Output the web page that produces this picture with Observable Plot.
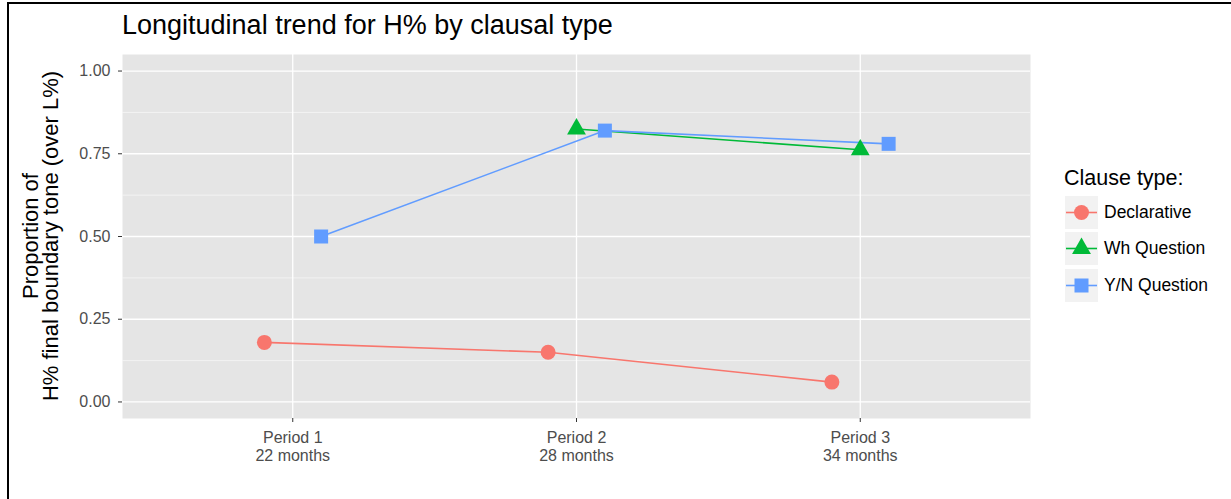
<!DOCTYPE html>
<html>
<head>
<meta charset="utf-8">
<script src="https://cdn.jsdelivr.net/npm/d3@7"></script>
<script src="https://cdn.jsdelivr.net/npm/@observablehq/plot@0.6"></script>
<style>
  html, body { margin: 0; padding: 0; background: #fff; }
  body { font-family: "Liberation Sans", Arial, Helvetica, sans-serif; }
  #wrap { position: relative; width: 1231px; height: 499px; overflow: hidden; }
  #frame { position: absolute; left: 7px; top: 2px; right: -5px; bottom: -5px;
           border-left: 2px solid #000; border-top: 2px solid #000; }
  #title { position: absolute; left: 122px; top: 11.5px; font-size: 27px; line-height: 1; color: #000; white-space: nowrap; }
  #ylab { position: absolute; left: 40.5px; top: 236px; transform: translate(-50%, -50%) rotate(-90deg);
          font-size: 22px; line-height: 20px; text-align: center; white-space: nowrap; color: #000; }
  #legend { position: absolute; left: 0; top: 0; width: 1231px; height: 499px; }
  #legend .ttl { position: absolute; left: 1064px; top: 168px; font-size: 21.5px; line-height: 1; white-space: nowrap; }
  #legend .key { position: absolute; left: 1065px; }
  #legend .lab { position: absolute; left: 1104px; font-size: 17.5px; line-height: 1; white-space: nowrap; color: #000; }
  #chart { position: absolute; left: 0; top: 0; }
</style>
</head>
<body>
<div id="wrap">
  <div id="frame"></div>
  <div id="chart"></div>
  <div id="title">Longitudinal trend for H% by clausal type</div>
  <div id="ylab">Proportion of<br>H% final boundary tone (over L%)</div>
  <div id="legend"></div>
</div>
<script>
// ---- data ----
const periods = ["Period 1\n22 months", "Period 2\n28 months", "Period 3\n34 months"];
const clauseTypes = ["Declarative", "Wh Question", "Y/N Question"];
const declarative = [0.18, 0.15, 0.06];
const whQuestion = [null, 0.825, 0.762];
const ynQuestion = [0.50, 0.82, 0.78];
const yTicks = [0, 0.25, 0.5, 0.75, 1];

const colors = ["#F8766D", "#00BA38", "#619CFF"];
const symbols = ["circle", "triangle", "square"];
const symbolR = [7.5, 7, 7.9];
const dodge = [-0.1, 0, 0.1];

const seriesValues = [declarative, whQuestion, ynQuestion];
const rows = [];
seriesValues.forEach((vals, s) => {
  vals.forEach((v, i) => {
    if (v != null) rows.push({type: clauseTypes[s], period: i + 1, x: i + 1 + dodge[s], y: v});
  });
});

const minorTicks = d3.range(yTicks.length - 1).map(i => (yTicks[i] + yTicks[i + 1]) / 2);

const plot = Plot.plot({
  width: 1231,
  height: 499,
  marginLeft: 122,
  marginRight: 201,
  marginTop: 54,
  marginBottom: 81,
  style: {fontFamily: '"Liberation Sans", Arial, sans-serif', background: "transparent"},
  x: {domain: [0.4, 3.6], axis: null},
  y: {domain: [-0.05, 1.05], axis: null},
  color: {domain: clauseTypes, range: colors},
  symbol: {domain: clauseTypes, range: symbols},
  marks: [
    Plot.frame({fill: "#E5E5E5", stroke: null}),
    Plot.ruleY(minorTicks, {stroke: "#F6F6F6", strokeWidth: 0.8}),
    Plot.ruleY(yTicks, {stroke: "#FFFFFF", strokeWidth: 1.3}),
    Plot.ruleX([1, 2, 3], {stroke: "#FFFFFF", strokeWidth: 1.3}),
    Plot.axisY(yTicks, {tickSize: 4, tickPadding: 8, tickFormat: d3.format(".2f"),
      fontSize: 16, fill: "#4D4D4D", stroke: "#333", label: null}),
    Plot.axisX([1, 2, 3], {tickSize: 4, tickPadding: 7, tickFormat: d => periods[d - 1],
      fontSize: 16, fill: "#4D4D4D", stroke: "#333", label: null, lineHeight: 1.15}),
    Plot.line(rows, {x: "x", y: "y", z: "type", stroke: "type", strokeWidth: 1.6}),
    ...clauseTypes.map((t, i) =>
      Plot.dot(rows.filter(d => d.type === t), {x: "x", y: "y", symbol: "type", fill: "type", stroke: null, r: symbolR[i]}))
  ]
});
document.getElementById("chart").appendChild(plot);

// ---- legend ----
const legend = document.getElementById("legend");
const ttl = document.createElement("div");
ttl.className = "ttl";
ttl.textContent = "Clause type:";
legend.appendChild(ttl);
const symMap = {circle: d3.symbolCircle, triangle: d3.symbolTriangle, square: d3.symbolSquare};
clauseTypes.forEach((name, i) => {
  const top = 196 + 36.3 * i;
  const svg = d3.create("svg").attr("width", 33).attr("height", 33)
    .attr("class", "key").style("top", top + "px");
  svg.append("rect").attr("width", 33).attr("height", 33).attr("fill", "#F2F2F2");
  svg.append("line").attr("x1", 1).attr("x2", 32).attr("y1", 16.5).attr("y2", 16.5)
    .attr("stroke", colors[i]).attr("stroke-width", 1.6);
  svg.append("path").attr("transform", "translate(16.5,16.5)")
    .attr("d", d3.symbol(symMap[symbols[i]], Math.PI * symbolR[i] * symbolR[i])()).attr("fill", colors[i]);
  legend.appendChild(svg.node());
  const lab = document.createElement("div");
  lab.className = "lab";
  lab.style.top = (top + 8) + "px";
  lab.textContent = name;
  legend.appendChild(lab);
});
</script>
</body>
</html>
